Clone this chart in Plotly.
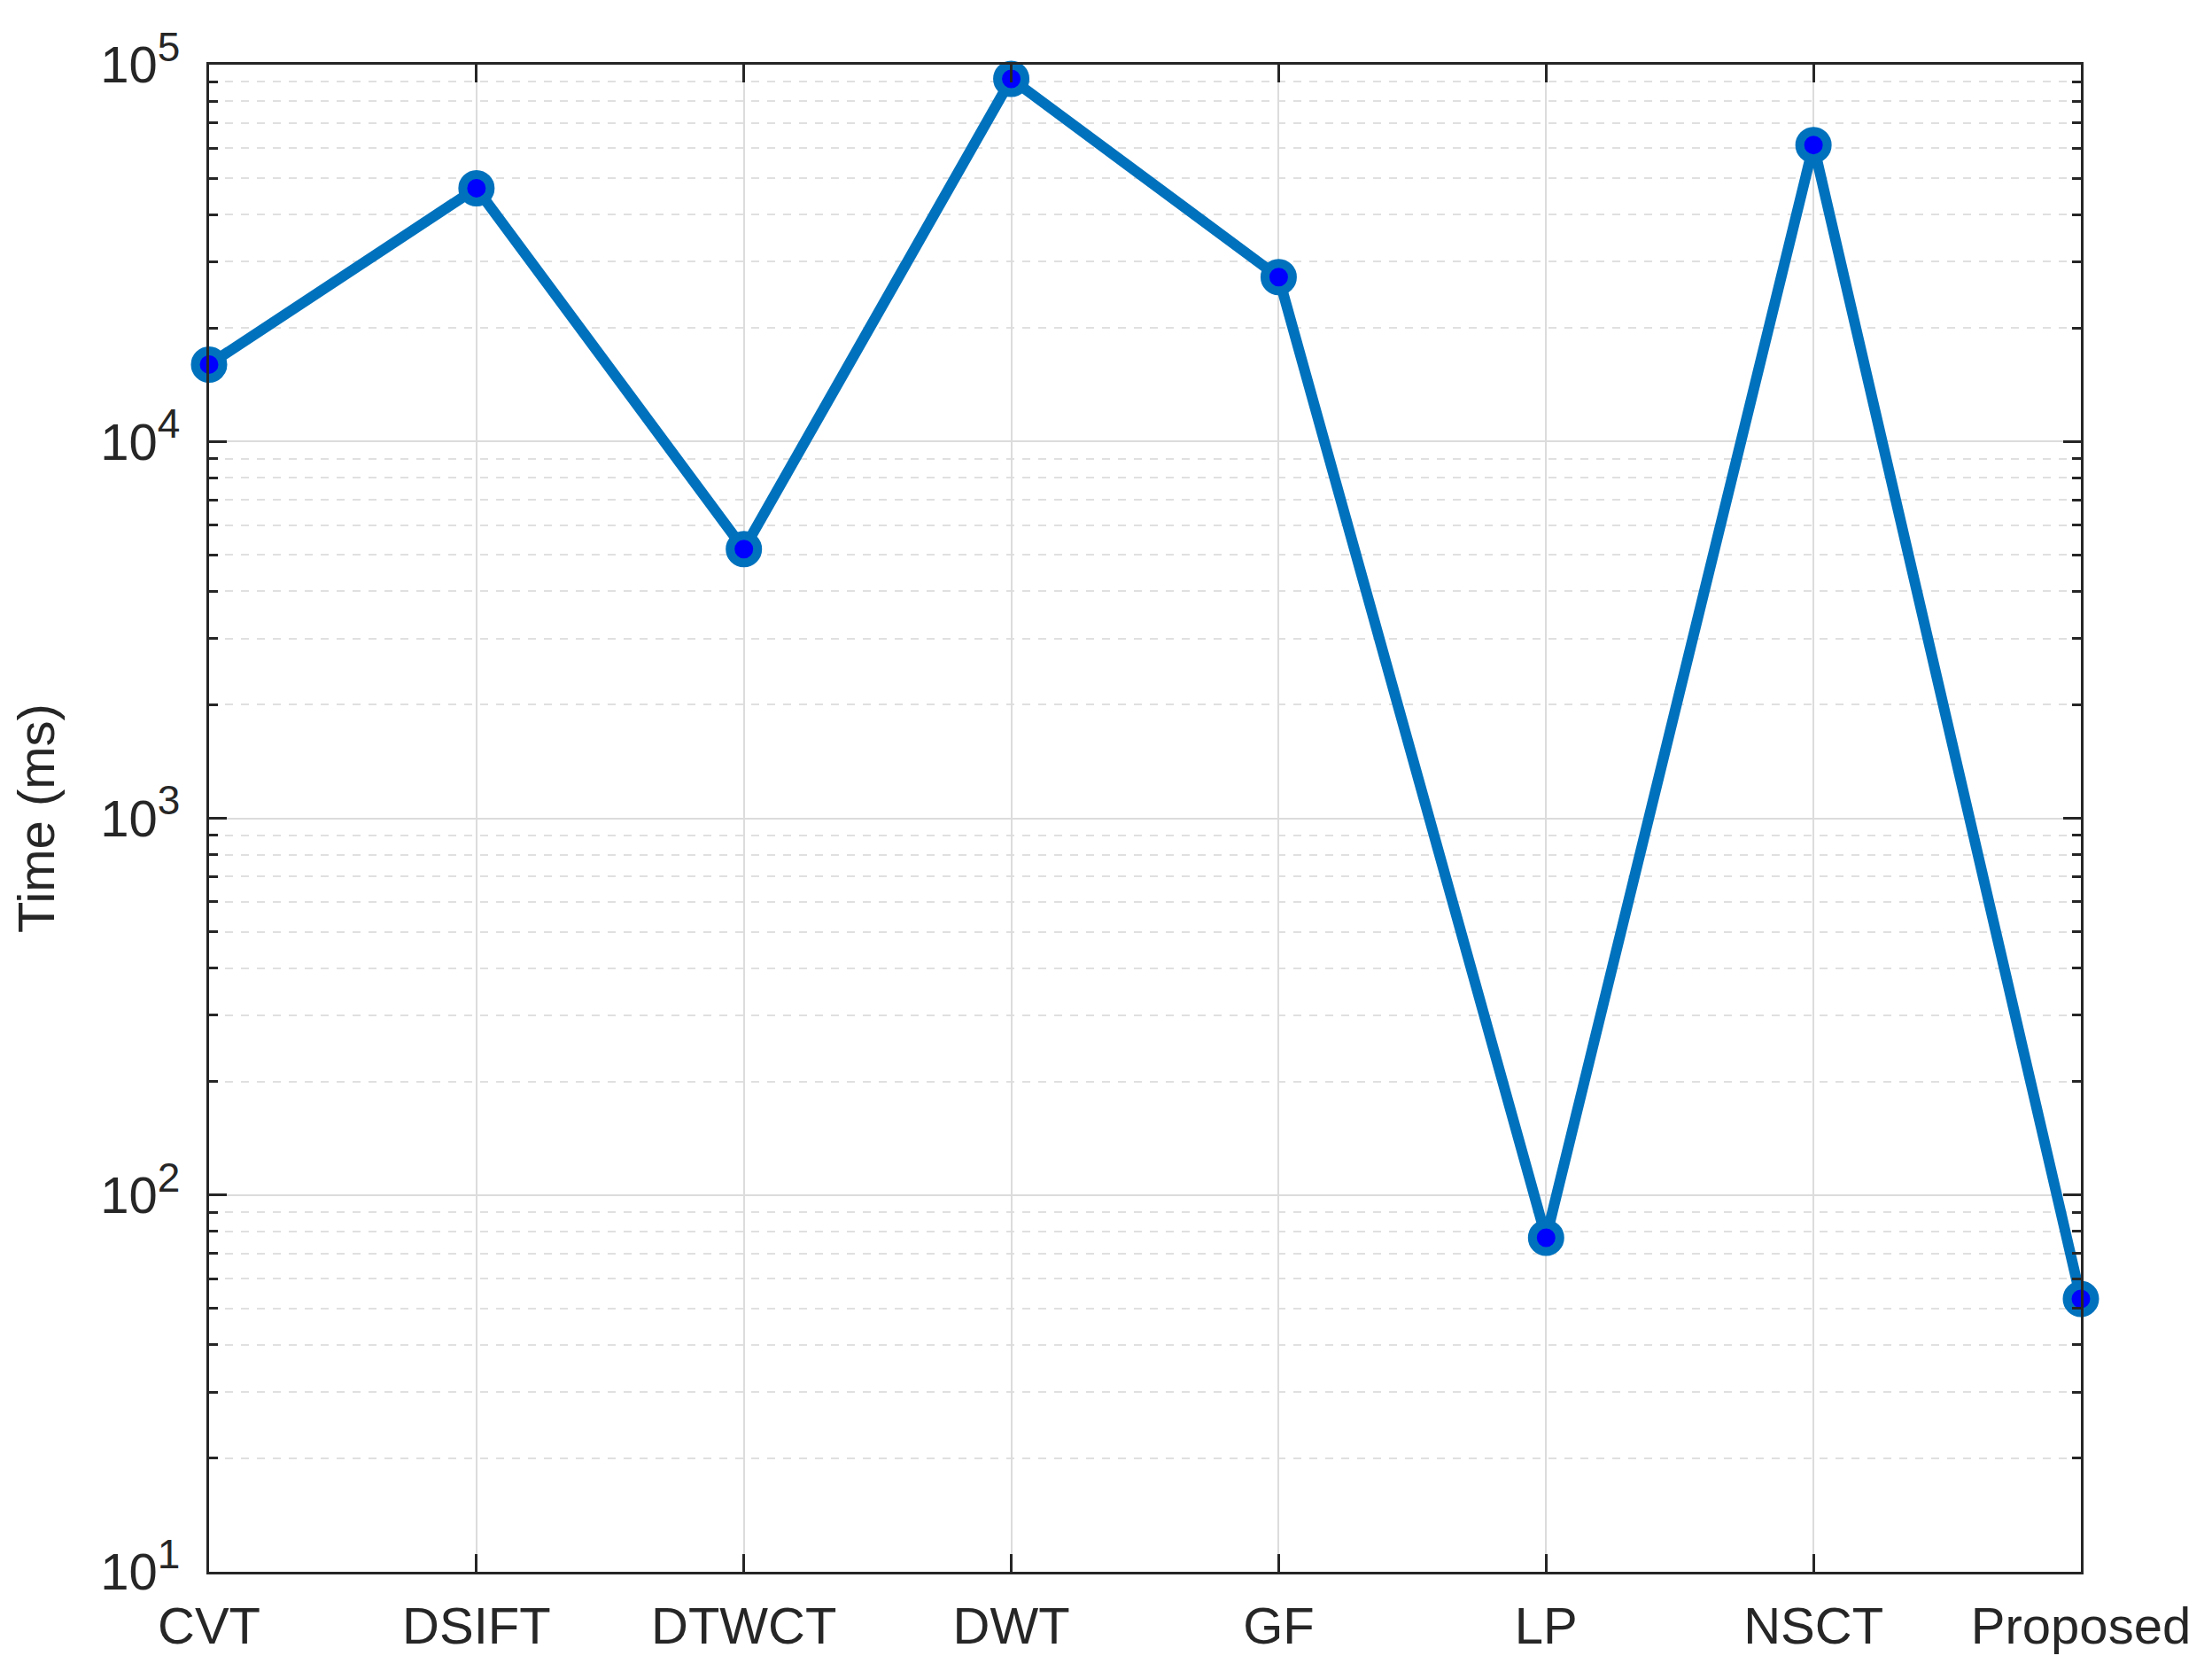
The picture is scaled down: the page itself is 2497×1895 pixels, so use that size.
import plotly.graph_objects as go

# methods compared and their run time (ms)
methods = ['CVT', 'DSIFT', 'DTWCT', 'DWT', 'GF', 'LP', 'NSCT', 'Proposed']
time_ms = [16000, 47000, 5180, 91700, 27300, 77, 61200, 53]

y_tickvals = [10, 100, 1000, 10000, 100000]
y_exponents = ['1', '2', '3', '4', '5']

LINE = '#0072BD'
FONT = 'Liberation Sans, Arial, sans-serif'

y_ticktext = ['10<sup><span style="font-size:46px">%s</span></sup>' % e for e in y_exponents]

fig = go.Figure()
fig.add_trace(go.Scatter(
    x=list(range(len(methods))), y=time_ms,
    mode='lines+markers',
    line=dict(color=LINE, width=12),
    marker=dict(size=31, color='#0000FF', line=dict(color=LINE, width=10)),
    cliponaxis=False,
    showlegend=False,
))

fig.update_layout(
    width=2497, height=1895,
    margin=dict(l=228, r=156, t=65, b=129),
    plot_bgcolor='white', paper_bgcolor='white',
    font=dict(family=FONT, size=58, color='#262626'),
)

fig.update_xaxes(
    range=[0, len(methods) - 1],
    tickvals=list(range(len(methods))), ticktext=methods,
    showline=True, linecolor='#262626', linewidth=3, mirror='allticks',
    ticks='inside', ticklen=20, tickwidth=3, tickcolor='#262626',
    showgrid=True, gridcolor='#dcdcdc', gridwidth=2,
    zeroline=False, ticklabelstandoff=8,
)

fig.update_yaxes(
    type='log', range=[1, 5],
    tickvals=y_tickvals, ticktext=y_ticktext,
    showline=True, linecolor='#262626', linewidth=3, mirror='allticks',
    ticks='inside', ticklen=20, tickwidth=3, tickcolor='#262626',
    showgrid=True, gridcolor='#dcdcdc', gridwidth=2,
    minor=dict(ticks='inside', ticklen=10, tickwidth=3, tickcolor='#262626',
               showgrid=True, gridcolor='#e0e0e0', gridwidth=2, griddash='dash',
               dtick='D1'),
    zeroline=False, ticklabelstandoff=18,
    title=dict(text='Time (ms)', standoff=34, font=dict(size=58)),
)

fig.write_html("out.html")
